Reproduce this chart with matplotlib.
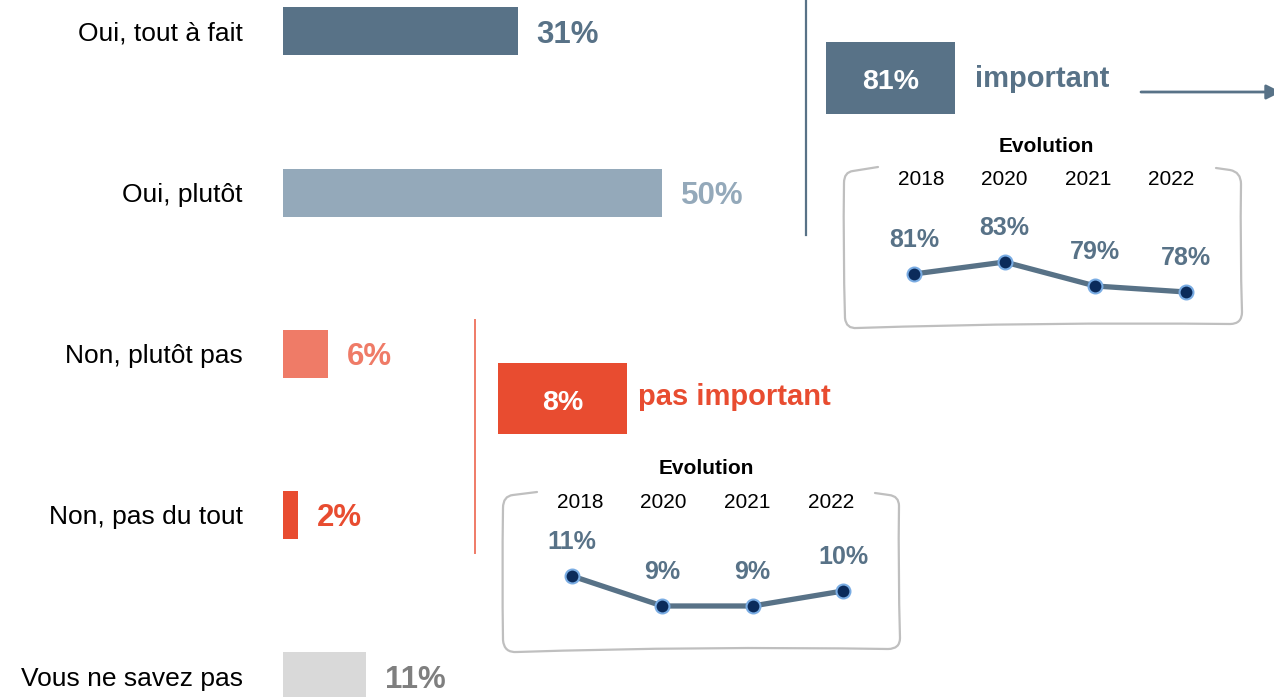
import matplotlib
matplotlib.use("Agg")
import matplotlib.pyplot as plt
from matplotlib.patches import Rectangle, PathPatch
from matplotlib.path import Path

plt.rcParams["font.family"] = ["Liberation Sans", "DejaVu Sans"]

# ---- data ----
categories = ["Oui, tout à fait", "Oui, plutôt", "Non, plutôt pas",
              "Non, pas du tout", "Vous ne savez pas"]
shares = [31, 50, 6, 2, 11]
years = ["2018", "2020", "2021", "2022"]
important_trend = [81, 83, 79, 78]
not_important_trend = [11, 9, 9, 10]

# ---- styles ----
SLATE = "#587287"
SLATE_LIGHT = "#94A9BA"
RED = "#E84C30"
RED_LIGHT = "#EF7B67"
GREY = "#D9D9D9"
GREY_TEXT = "#7F7F7F"
BRACE = "#BFBFBF"
bar_colors = [SLATE, SLATE_LIGHT, RED_LIGHT, RED, GREY]
value_colors = [SLATE, SLATE_LIGHT, RED_LIGHT, RED, GREY_TEXT]

W, H = 1274, 697
fig = plt.figure(figsize=(W / 100, H / 100), dpi=100)


def px_rect(x0, y0, x1, y1):
    return [x0 / W, 1 - y1 / H, (x1 - x0) / W, (y1 - y0) / H]


# overlay in pixel coordinates for the decorative elements
ov = fig.add_axes([0, 0, 1, 1])
ov.set_xlim(0, W)
ov.set_ylim(H, 0)
ov.axis("off")

# ---- main horizontal bars ----
ax = fig.add_axes(px_rect(283, 0, W, H))
ax.set_facecolor("none")
px_per_pct = 7.58
ax.set_xlim(0, (W - 283) / px_per_pct)
row_gap, first_row = 161.2, 31.3
ax.set_ylim((H - first_row) / row_gap, -first_row / row_gap)
ypos = list(range(len(categories)))
ax.barh(ypos, shares, height=48 / row_gap, color=bar_colors)
for i, v in enumerate(shares):
    ax.annotate(f"{v}%", xy=(v, i), xytext=(13.5, -2.5), textcoords="offset points",
                ha="left", va="center", fontsize=22.5, fontweight="bold",
                color=value_colors[i])
ax.set_yticks(ypos)
ax.set_yticklabels(categories, fontsize=19, color="black")
ax.tick_params(axis="y", length=0, pad=28.8)
ax.set_xticks([])
for s in ax.spines.values():
    s.set_visible(False)

# ---- separators ----
ov.plot([806, 806], [0, 235], color=SLATE, lw=1.6)
ov.plot([475, 475], [320, 553], color=RED_LIGHT, lw=1.4)

# ---- summary boxes ----
total_important = shares[0] + shares[1]
total_not_important = shares[2] + shares[3]

ov.add_patch(Rectangle((826, 42), 129, 72, color=SLATE, lw=0))
ov.text(890.5, 89, f"{total_important}%", ha="center", va="baseline",
        fontsize=20.5, fontweight="bold", color="white")
ov.text(975, 87, "important", ha="left", va="baseline", fontsize=21,
        fontweight="bold", color=SLATE)
ov.annotate("", xy=(1281, 92), xytext=(1141, 92), annotation_clip=False,
            arrowprops=dict(arrowstyle="-|>", color=SLATE, lw=2,
                            mutation_scale=22, shrinkA=0, shrinkB=0))

ov.add_patch(Rectangle((498, 363), 129, 71, color=RED, lw=0))
ov.text(562.5, 410, f"{total_not_important}%", ha="center", va="baseline",
        fontsize=20.5, fontweight="bold", color="white")
ov.text(638, 405, "pas important", ha="left", va="baseline", fontsize=21,
        fontweight="bold", color=RED)


# ---- hand-drawn style frames ----
def frame(pts):
    verts = [p for p, _ in pts]
    codes = [c for _, c in pts]
    ov.add_patch(PathPatch(Path(verts, codes), fill=False, edgecolor=BRACE,
                           lw=1.6, capstyle="round", joinstyle="round"))


M, L, C = Path.MOVETO, Path.LINETO, Path.CURVE3
frame([((878, 167), M), ((853, 171), L), ((844, 172), C), ((844, 183), C),
       ((843, 250), C), ((845, 318), C), ((846, 329), C), ((857, 328), C),
       ((1040, 322), C), ((1230, 324), C), ((1242, 324), C), ((1242, 312), C),
       ((1240, 250), C), ((1241, 184), C), ((1241, 172), C), ((1230, 170), C),
       ((1216, 168), L)])
frame([((537, 492), M), ((513, 495), L), ((503, 496), C), ((503, 508), C),
       ((502, 575), C), ((503, 640), C), ((504, 653), C), ((517, 652), C),
       ((700, 646), C), ((888, 649), C), ((900, 649), C), ((900, 638), C),
       ((898, 570), C), ((899, 506), C), ((899, 496), C), ((889, 495), C),
       ((875, 493), L)])


# ---- evolution mini charts ----
def evolution(rect, ylim, values, title_xy, year_xs, year_y):
    a = fig.add_axes(px_rect(*rect))
    a.set_facecolor("none")
    a.set_xlim(-0.5, len(values) - 0.5)
    a.set_ylim(*ylim)
    a.axis("off")
    xs = list(range(len(values)))
    a.plot(xs, values, color=SLATE, lw=3.8, marker="o", ms=10,
           mfc="#0B2B5B", mec="#79ACE3", mew=1.5, clip_on=False,
           solid_capstyle="round")
    for x, v in zip(xs, values):
        a.annotate(f"{v}%", xy=(x, v), xytext=(0, 19.5),
                   textcoords="offset points", ha="center", va="baseline",
                   fontsize=18, fontweight="bold", color=SLATE)
    ov.text(title_xy[0], title_xy[1], "Evolution", ha="center", va="baseline",
            fontsize=15, fontweight="bold", color="black")
    for yx, yl in zip(year_xs, years):
        ov.text(yx, year_y, yl, ha="center", va="baseline", fontsize=15,
                color="black")


evolution((868.7, 200, 1231.3, 310), (75, 93.33), important_trend,
          (1046, 152), [921, 1004, 1088, 1171], 185)
evolution((526.8, 520, 888.2, 630), (7.4, 14.73), not_important_trend,
          (706, 474), [580, 663, 747, 831], 508)

fig.savefig("out.png", dpi=100)
